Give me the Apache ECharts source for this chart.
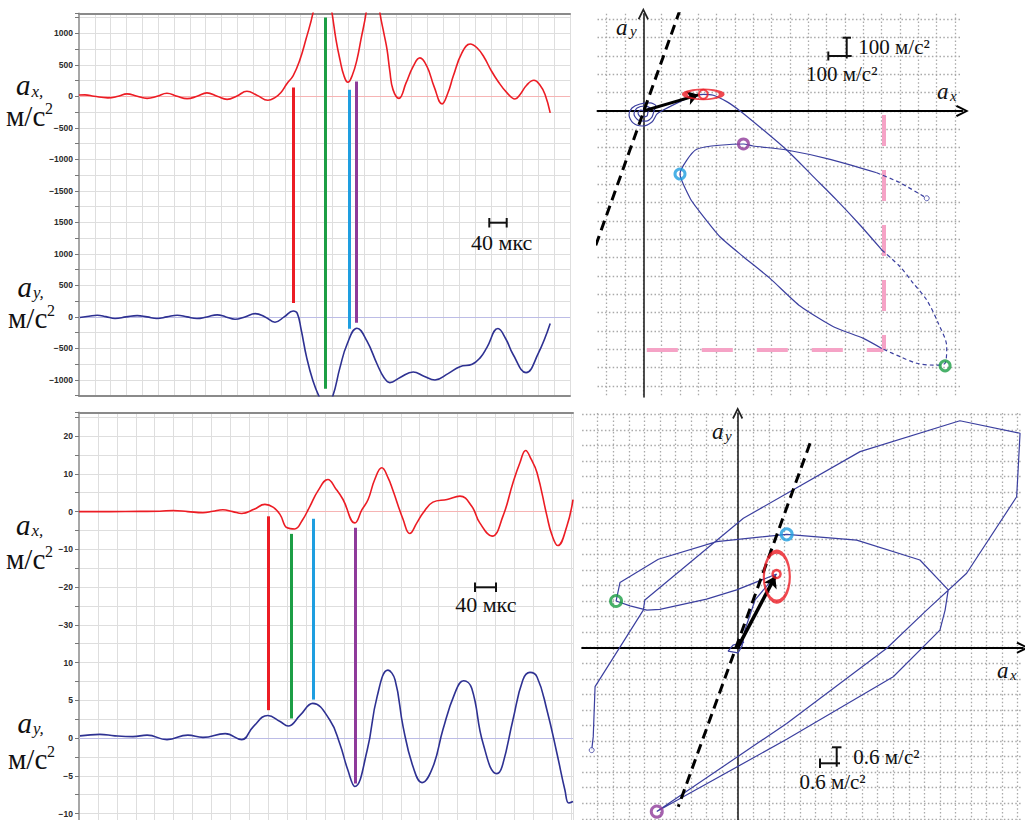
<!DOCTYPE html>
<html><head><meta charset="utf-8">
<script src="https://cdn.jsdelivr.net/npm/echarts@6/dist/echarts.min.js"></script>
<style>html,body{margin:0;padding:0;background:#fff}#c{width:1025px;height:820px}</style>
</head><body><div id="c"></div>
<script>
// ---------------- DATA ----------------
// Top-left: time (мкс) vs a_x, a_y (м/с²)
const topAx = [[-40,20],[-25,22],[-2,0],[33,-25],[59,0],[81,38],[107,0],[132,-32],[157,0],[182,48],[208,0],[233,-37],[258,0],[283,54],[309,0],[334,-48],[359,5],[384,80],[410,15],[437,-63],[455,-20],[470,60],[485,200],[501,330],[518,582],[533,900],[551,1323],[564,1800],[574,1980],[586,1800],[599,1323],[609,900],[619,582],[629,330],[639,222],[650,330],[662,582],[672,900],[685,1323],[695,1850],[703,2050],[710,1850],[720,1323],[730,1000],[738,741],[745,400],[753,106],[768,-32],[786,212],[804,476],[821,610],[839,470],[857,150],[877,-120],[892,60],[905,317],[927,688],[948,830],[965,770],[983,620],[1000,420],[1018,240],[1041,54],[1061,-42],[1074,30],[1091,180],[1109,254],[1124,180],[1137,30],[1150,-263]];
const topAy = [[-38,-10],[-15,10],[6,27],[28,5],[51,-25],[79,0],[107,21],[132,0],[157,-25],[182,0],[208,27],[233,0],[258,-25],[283,0],[309,33],[331,0],[354,-37],[379,0],[405,52],[430,0],[455,-84],[478,0],[501,95],[511,60],[521,-200],[535,-646],[551,-1016],[569,-1300],[584,-1450],[601,-1254],[619,-805],[637,-433],[662,-179],[687,-381],[713,-751],[730,-960],[745,-1042],[771,-960],[804,-873],[831,-940],[859,-1000],[892,-900],[922,-789],[953,-751],[973,-650],[990,-487],[1018,-185],[1038,-350],[1056,-592],[1089,-884],[1119,-592],[1150,-106]];
const topMarkT = [500, 583, 642, 661];
const topMarkAx = [138, 1249, 106, 233];
const topMarkAy = [221, -1139, -187, -91];
const topTicksLabelStep = 500;

// Bottom-left
const botAx = [[-40,0],[26,0],[89,0.05],[131,0.1],[159,0.3],[190,0],[222,-0.3],[243,0.1],[264,0.5],[285,0],[304,-0.5],[330,0.6],[353,1.9],[370,1.2],[385,-0.8],[400,-4.3],[416,-4.6],[431,-2.5],[448,1.4],[465,5.5],[486,8.5],[503,6],[518,3.2],[543,-3.0],[558,0.5],[571,3.2],[585,8.5],[600,11.6],[613,9],[623,5.8],[645,-2.1],[659,-5.8],[674,-3],[687,-0.4],[708,2.5],[738,3.2],[765,4.1],[790,1.4],[807,-3.0],[833,-6.5],[856,-1.2],[877,7.6],[892,13],[904,16.2],[915,14],[928,10.3],[949,-1.2],[959,-6],[972,-9.0],[991,-3.9],[1004,3.2]];
const botAy = [[-38,0.3],[4,0.5],[36,0.3],[74,0.2],[104,0.4],[146,-0.2],[190,0.4],[222,0.1],[269,0.6],[304,-0.2],[328,1.5],[359,3.0],[385,2.2],[402,1.6],[427,3.0],[454,4.6],[490,2.4],[511,-0.7],[528,-4.2],[543,-6.4],[569,-1.6],[590,5.5],[613,9.0],[628,7.7],[645,1.5],[666,-3.8],[685,-5.9],[708,-3.8],[729,1.1],[754,5.9],[773,7.6],[790,6.6],[814,-0.7],[843,-4.7],[854,-3.8],[877,2.4],[898,7.7],[913,8.7],[928,8.1],[949,3.7],[970,-2.0],[987,-6.9],[995,-8.6],[1004,-8.4]];
const botMarkT = [360, 408, 454, 543];
const botMarkAx = [-1.25, -5.9, -1.9, -4.3];
const botMarkAy = [3.7, 2.6, 5.1, -6.0];

// Top-right phase plot (a_x, a_y), м/с²
const trSolidA = [[15,-5],[-13,5],[-29,-11],[-13,-33],[20,-27],[26,-5],[42,11],[9,27],[-34,16],[-51,-16],[-29,-49],[15,-55],[47,-33],[58,0],[69,27],[37,44],[-18,38],[-62,16],[-78,-22],[-56,-65],[-7,-82],[47,-60],[75,-16],[109,5],[200,51],[273,82],[327,91],[382,86],[455,51],[528,0],[655,-104],[782,-213],[927,-358],[1055,-486],[1182,-622],[1301,-758]];
const trDashA = [[1301,-758],[1400,-849],[1473,-940],[1546,-1031],[1609,-1158],[1655,-1286],[1646,-1376],[1582,-1386],[1492,-1376],[1400,-1340],[1301,-1295]];
const trSolidB = [[1301,-1295],[1200,-1240],[1037,-1177],[855,-1064],[691,-913],[546,-795],[418,-686],[300,-540],[255,-476],[200,-344],[291,-209],[546,-180],[598,-191],[782,-213],[1019,-264],[1273,-337]];
const trDashB = [[1273,-337],[1400,-391],[1546,-476]];
const trRed = [327, 91];
const trArrowTip = [300, 88];
const trMarks = [[200,-344],[546,-180],[1646,-1390]];   // cyan, purple, green
const trDashedLine = [[200,551],[-292,-824]];
const trPinkV = [[1310,-22],[1310,-1304]];
const trPinkH = [[19,-1304],[1310,-1304]];

// Bottom-right phase plot
const brCurve = [[0,0],[0.24,0.22],[-0.18,0.10],[-0.37,-0.13],[0.01,-0.2],[0.17,0.07],[0.28,0.68],[0.67,1.84],[1.50,2.84],[-0.04,2.23],[-1.2,1.87],[-3.0,1.48],[-3.5,1.45],[-4.15,1.61],[-4.69,1.80],[-4.54,2.51],[-3.06,3.41],[-0.81,4.09],[1.89,4.37],[4.59,4.15],[7.03,3.38],[8.12,2.23],[8.0,1.45],[7.8,0.68],[6.0,-1.12],[1.89,-3.53],[-3.12,-6.32],[1.89,-2.92],[5.75,-0.02],[7.29,1.45],[8.83,2.87],[10.76,5.82],[10.89,8.27],[8.57,8.75],[4.72,7.56],[0.22,4.99],[-3.58,1.84],[-3.64,1.45],[-5.5,-1.5],[-5.57,-3.43],[-5.63,-3.95]];
const brRed = [1.50, 2.84];
const brRedEllipse = [1.51, 2.74];
const brArrowTip = [1.45, 2.75];
const brMarks = [[-4.69,1.80],[1.89,4.37],[-3.12,-6.32]];  // green, cyan, purple
const brDashedLine = [[2.79,7.88],[-2.29,-6.13]];

// ---------------- STYLE / LAYOUT ----------------
const TOP_OFF = 3500;   // a_y trace drawn lower on the shared top-left axis
const BOT_OFF = 60;     // bottom-left: a_y drawn as 2*a_y - 60
const RED = '#ec1c24', BLUE = '#2e3192', GREEN = '#1c9e45', CYAN = '#1e9ee0', PURPLE = '#8e3a9a';
const markColors = [RED, GREEN, CYAN, PURPLE];
const PBLUE = '#3b3f9f';
const DOTS = {color:'#a9a9a9', width:1.3, type:[1.5,2.3]};
const chevron = 'path://M5,0 L10,10 L8.6,11 L5,3.4 L1.4,11 L0,10 Z';
const minus = v => (v < 0 ? '\u2212' + Math.abs(v) : String(v));
const tickLabel = {fontFamily:'Liberation Sans', fontSize:8.5, fontWeight:'bold', color:'#2a2a2a', margin:6};

const chart = echarts.init(document.getElementById('c'), null, {renderer:'svg'});

function timeX(gi, max, pos, showLine) {
  return {gridIndex:gi, type:'value', min:-40, max:max, interval:40, position:pos,
    axisLine:{show:showLine, onZero:false, lineStyle:{color:'#8a8a8a', width:2}},
    axisTick:{show:false}, axisLabel:{show:false},
    splitLine:{show:pos==='bottom', showMinLine:false, lineStyle:{color:'#dedede', width:1}}};
}
const option = {
  animation:false,
  backgroundColor:'#fff',
  grid:[
    {left:79, top:13.3, width:491, height:382.4, containLabel:false, outerBoundsMode:'none'},
    {left:597.5, top:13.8, width:364.8, height:383.2, containLabel:false, outerBoundsMode:'none'},
    {left:79, top:412.3, width:494, height:420.2, containLabel:false, outerBoundsMode:'none'},
    {left:582.1, top:413, width:440.8, height:421.4, containLabel:false, outerBoundsMode:'none'}
  ],
  xAxis:[
    timeX(0, 1200, 'bottom', true),
    timeX(0, 1200, 'top', true),
    {gridIndex:1, type:'value', min:-250, max:1740, splitNumber:20,
      axisLine:{onZero:true, lineStyle:{color:'#000', width:2}, symbol:['none', chevron], symbolSize:[12,13]},
      axisTick:{show:false}, axisLabel:{show:false},
      splitLine:{show:true, showMinLine:false, showMaxLine:false, lineStyle:DOTS}},
    timeX(2, 1004, 'bottom', false),
    timeX(2, 1004, 'top', true),
    {gridIndex:3, type:'value', min:-6.0, max:11.0, interval:0.6,
      axisLine:{onZero:true, lineStyle:{color:'#000', width:2}, symbol:['none', chevron], symbolSize:[12,13]},
      axisTick:{show:false}, axisLabel:{show:false},
      splitLine:{show:true, showMinLine:false, showMaxLine:false, lineStyle:DOTS}}
  ],
  yAxis:[
    {gridIndex:0, type:'value', min:-4750, max:1317, interval:250,
      axisLine:{show:true, onZero:false, lineStyle:{color:'#8a8a8a', width:1.5}},
      axisTick:{show:true, length:4, lineStyle:{color:'#777'}},
      axisLabel:Object.assign({}, tickLabel, {formatter:v => {
        if (Math.abs(v % topTicksLabelStep) > 1e-6) return '';
        return minus(v >= -1500 ? v : v + TOP_OFF);
      }}),
      splitLine:{show:true, showMaxLine:false, lineStyle:{color:'#dedede', width:1}}},
    {gridIndex:1, type:'value', min:-1560, max:530, splitNumber:21,
      axisLine:{onZero:true, lineStyle:{color:'#222', width:1.6}, symbol:['none', chevron], symbolSize:[11,12]},
      axisTick:{show:false}, axisLabel:{show:false},
      splitLine:{show:true, showMinLine:false, showMaxLine:false, lineStyle:DOTS}},
    {gridIndex:2, type:'value', min:-85, max:26.3, interval:5,
      axisLine:{show:true, onZero:false, lineStyle:{color:'#8a8a8a', width:1.5}},
      axisTick:{show:true, length:4, lineStyle:{color:'#777'}},
      axisLabel:Object.assign({}, tickLabel, {formatter:v => {
        if (Math.abs(v % 10) > 1e-6) return '';
        return minus(v >= -30 ? v : (v + BOT_OFF) / 2);
      }}),
      splitLine:{show:true, showMaxLine:false, lineStyle:{color:'#dedede', width:1}}},
    {gridIndex:3, type:'value', min:-7.2, max:9.05, interval:0.6,
      axisLine:{onZero:true, lineStyle:{color:'#222', width:1.6}, symbol:['none', chevron], symbolSize:[11,12]},
      axisTick:{show:false}, axisLabel:{show:false},
      splitLine:{show:true, showMinLine:false, showMaxLine:false, lineStyle:DOTS}}
  ],
  series:[]
};

const S = option.series;
function zeroLine(xi, yi, x0, x1, y, color) {
  S.push({type:'lines', coordinateSystem:'cartesian2d', xAxisIndex:xi, yAxisIndex:yi, silent:true, z:1,
    lineStyle:{color:color, width:1.2, opacity:1}, data:[{coords:[[x0,y],[x1,y]]}]});
}
function trace(xi, yi, data, color) {
  S.push({type:'line', xAxisIndex:xi, yAxisIndex:yi, data:data, showSymbol:false, smooth:0.45,
    lineStyle:{color:color, width:1.6}, itemStyle:{color:color}, z:2, silent:true});
}
function markers(xi, yi, ts, tops, bots) {
  S.push({type:'lines', coordinateSystem:'cartesian2d', xAxisIndex:xi, yAxisIndex:yi, silent:true, z:4,
    lineStyle:{width:3, opacity:1},
    data:ts.map((t,i) => ({coords:[[t,tops[i]],[t,bots[i]]], lineStyle:{color:markColors[i], width:3, opacity:1}}))});
}
// Top-left
zeroLine(0, 0, -40, 1200, 0, '#f6b4b4');
zeroLine(0, 0, -40, 1200, -TOP_OFF, '#bcbce6');
trace(0, 0, topAx, RED);
trace(0, 0, topAy.map(p => [p[0], p[1] - TOP_OFF]), BLUE);
markers(0, 0, topMarkT, topMarkAx, topMarkAy.map(v => v - TOP_OFF));
// Bottom-left
zeroLine(3, 2, -40, 1004, 0, '#f6b4b4');
zeroLine(3, 2, -40, 1004, -BOT_OFF, '#bcbce6');
trace(3, 2, botAx, RED);
trace(3, 2, botAy.map(p => [p[0], 2 * p[1] - BOT_OFF]), BLUE);
markers(3, 2, botMarkT, botMarkAx, botMarkAy.map(v => 2 * v - BOT_OFF));

function pline(xi, yi, data, dashed, smooth) {
  S.push({type:'line', xAxisIndex:xi, yAxisIndex:yi, data:data, showSymbol:false, smooth:smooth,
    lineStyle:{color:PBLUE, width:1.2, type:dashed ? [4,3] : 'solid'}, z:3, silent:true});
}
function seg(xi, yi, coords, style, sym, z) {
  S.push({type:'lines', coordinateSystem:'cartesian2d', xAxisIndex:xi, yAxisIndex:yi, silent:true, z:z||5,
    symbol:sym || 'none', symbolSize:11, lineStyle:Object.assign({opacity:1}, style), data:[{coords:coords}]});
}
function ring(xi, yi, pts, colors, size, bw) {
  S.push({type:'scatter', xAxisIndex:xi, yAxisIndex:yi, silent:true, z:7,
    data:pts.map((p,i) => ({value:p, itemStyle:{color:'rgba(255,255,255,0)', borderColor:colors[i], borderWidth:bw}})),
    symbol:'circle', symbolSize:size});
}
// Top-right
seg(2, 1, trPinkV, {color:'#f5a3c6', width:4, type:[31,24]}, 'none', 2);
seg(2, 1, trPinkH, {color:'#f5a3c6', width:4, type:[31,24]}, 'none', 2);
pline(2, 1, trSolidA, false, 0.3);
pline(2, 1, trDashA, true, 0.3);
pline(2, 1, trSolidB, false, 0.2);
pline(2, 1, trDashB, true, 0.2);
seg(2, 1, trDashedLine, {color:'#000', width:3, type:[10,6]}, 'none', 5);
seg(2, 1, [[0,0], trArrowTip], {color:'#000', width:3}, ['none','arrow'], 6);
ring(2, 1, [trRed], [RED], [37,10], 3);
ring(2, 1, [trRed], [RED], [9,9], 2);
ring(2, 1, trMarks, [CYAN, PURPLE, GREEN], 10, 3);
S.push({type:'scatter', xAxisIndex:2, yAxisIndex:1, silent:true, z:6, symbol:'circle', symbolSize:5,
  itemStyle:{color:'#fff', borderColor:PBLUE, borderWidth:1}, data:[trDashB[trDashB.length-1]]});
// Bottom-right
pline(5, 3, brCurve, false, 0);
seg(5, 3, brDashedLine, {color:'#000', width:3, type:[10,6]}, 'none', 5);
seg(5, 3, [[0,0], brArrowTip], {color:'#000', width:3.5}, ['none','arrow'], 6);
ring(5, 3, [brRedEllipse], [RED], [26,50], 3);
ring(5, 3, [brRed], [RED], 8, 2.5);
ring(5, 3, brMarks, [GREEN, CYAN, PURPLE], 11, 3);
S.push({type:'scatter', xAxisIndex:5, yAxisIndex:3, silent:true, z:6, symbol:'circle', symbolSize:5,
  itemStyle:{color:'#fff', borderColor:PBLUE, borderWidth:1}, data:[brCurve[brCurve.length-1]]});

// ---------------- TEXT & SCALE BARS ----------------
const SERIF = '"Liberation Serif", "DejaVu Serif", serif';
function txt(x, y, text, size, italic, align) {
  return {type:'text', x:x, y:y, z:100, silent:true,
    style:{text:text, font:(italic ? 'italic ' : '') + size + 'px ' + SERIF, fill:'#111',
      align:align || 'left', verticalAlign:'middle'}};
}
function ln(x1, y1, x2, y2, w) {
  return {type:'line', z:100, silent:true, shape:{x1:x1, y1:y1, x2:x2, y2:y2}, style:{stroke:'#111', lineWidth:w || 2}};
}
const G = [
  // left axis titles
  txt(16, 85, 'a', 29, true), txt(31.5, 91, 'x,', 17, true), txt(6, 116, 'м/с', 29, false), txt(45, 108, '2', 16, false),
  txt(17.5, 287, 'a', 29, true), txt(33, 292, 'y,', 17, true), txt(8, 318, 'м/с', 29, false), txt(47, 310, '2', 16, false),
  txt(16, 525, 'a', 29, true), txt(31.5, 530, 'x,', 17, true), txt(6, 559, 'м/с', 29, false), txt(45, 551, '2', 16, false),
  txt(17.5, 723, 'a', 29, true), txt(33, 728, 'y,', 17, true), txt(8, 759, 'м/с', 29, false), txt(47, 751, '2', 16, false),
  // phase axis titles
  txt(616, 27, 'a', 23, true), txt(630, 31, 'y', 15, true),
  txt(937, 91, 'a', 23, true), txt(950, 96, 'x', 15, true),
  txt(712, 431, 'a', 23, true), txt(725, 436, 'y', 15, true),
  txt(997, 670, 'a', 23, true), txt(1010, 675, 'x', 15, true),
  // 40 мкс scale bars
  ln(489.3, 222.7, 506.7, 222.7), ln(489.3, 218, 489.3, 227.5), ln(506.7, 218, 506.7, 227.5),
  txt(501.7, 242.7, '40 мкс', 22, false, 'center'),
  ln(475, 587.3, 496, 587.3), ln(475, 582.5, 475, 592), ln(496, 582.5, 496, 592),
  txt(485.8, 604, '40 мкс', 22, false, 'center'),
  // 100 м/с² scale
  ln(828.3, 56, 851.7, 56), ln(828.3, 51.5, 828.3, 60.5), ln(846.7, 37.7, 846.7, 58.5), ln(842.5, 37.7, 851, 37.7),
  txt(858.3, 46.7, '100 м/с²', 21, false), txt(841.7, 74, '100 м/с²', 21, false, 'center'),
  // 0.6 м/с² scale
  ln(820, 763.3, 840, 763.3), ln(820, 758.5, 820, 768), ln(836.7, 747.3, 836.7, 766.7), ln(832, 747.3, 841.5, 747.3),
  txt(853.3, 756.7, '0.6 м/с²', 21, false), txt(832.5, 781.7, '0.6 м/с²', 21, false, 'center')
];
option.graphic = {elements:G};
chart.setOption(option);
</script></body></html>
